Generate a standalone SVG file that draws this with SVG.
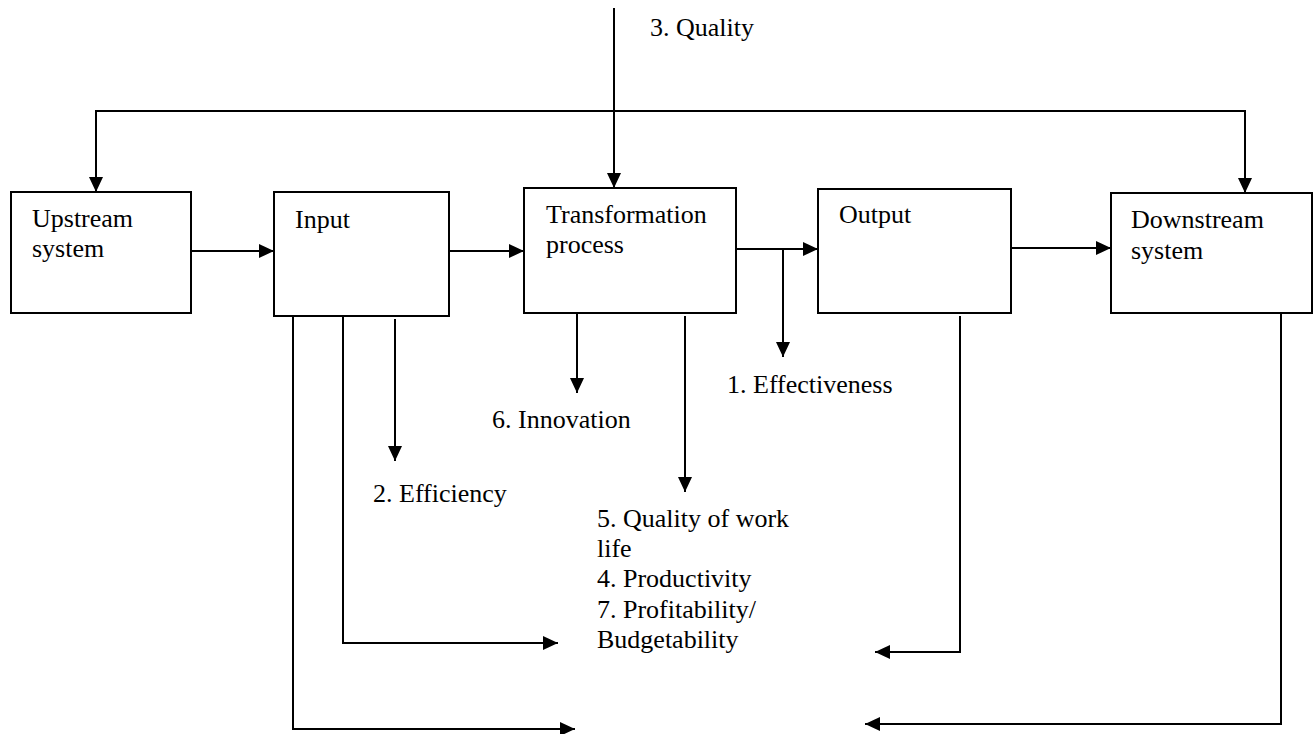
<svg xmlns="http://www.w3.org/2000/svg" width="1315" height="734" viewBox="0 0 1315 734">
  <style>
    .box { fill: #ffffff; stroke: #000000; stroke-width: 2; }
    .wire { fill: none; stroke: #000000; stroke-width: 2; }
    text { font-family: "Liberation Serif", "Times New Roman", serif; font-size: 26px; fill: #000000; }
  </style>
  <defs>
    <marker id="arrow" viewBox="0 0 15 14" refX="15" refY="7" markerWidth="15" markerHeight="14" markerUnits="userSpaceOnUse" orient="auto">
      <path d="M0,0 L15,7 L0,14 Z" fill="#000000"/>
    </marker>
  </defs>
  <rect width="1315" height="734" fill="#ffffff"/>

  <!-- connectors -->
  <g id="connectors" class="wire" marker-end="url(#arrow)">
    <!-- quality feed from above into the transformation process -->
    <line x1="614" y1="8" x2="614" y2="188"/>
    <!-- top feedback bus to upstream and downstream systems -->
    <polyline points="614,111 96,111 96,192"/>
    <polyline points="614,111 1245,111 1245,193"/>
    <!-- main flow -->
    <line x1="191" y1="251" x2="274" y2="251"/>
    <line x1="449" y1="251" x2="524" y2="251"/>
    <line x1="736" y1="249" x2="818" y2="249"/>
    <line x1="1011" y1="248" x2="1111" y2="248"/>
    <!-- effectiveness branch -->
    <line x1="783" y1="249" x2="783" y2="357"/>
    <!-- measures from input -->
    <line x1="395" y1="319" x2="395" y2="461"/>
    <polyline points="343,316 343,643 558,643"/>
    <polyline points="293,316 293,729 575,729"/>
    <!-- measures from transformation process -->
    <line x1="577" y1="313" x2="577" y2="393"/>
    <line x1="685" y1="316" x2="685" y2="492"/>
    <!-- returns from output and downstream -->
    <polyline points="960,316 960,652 875,652"/>
    <polyline points="1281,313 1281,724 865,724"/>
  </g>

  <!-- nodes -->
  <g id="upstream">
    <rect class="box" x="11" y="192" width="180" height="121"/>
    <text x="32" y="227">Upstream</text>
    <text x="32" y="257">system</text>
  </g>
  <g id="input">
    <rect class="box" x="274" y="192" width="175" height="124"/>
    <text x="295" y="228">Input</text>
  </g>
  <g id="transformation">
    <rect class="box" x="524" y="188" width="212" height="125"/>
    <text x="546" y="223">Transformation</text>
    <text x="546" y="253">process</text>
  </g>
  <g id="output">
    <rect class="box" x="818" y="189" width="193" height="124"/>
    <text x="839" y="223">Output</text>
  </g>
  <g id="downstream">
    <rect class="box" x="1111" y="193" width="201" height="120"/>
    <text x="1131" y="228">Downstream</text>
    <text x="1131" y="259">system</text>
  </g>

  <!-- measure labels -->
  <g id="labels">
    <text x="650" y="36">3. Quality</text>
    <text x="727" y="393">1. Effectiveness</text>
    <text x="492" y="428">6. Innovation</text>
    <text x="373" y="502">2. Efficiency</text>
    <text x="597" y="527">5. Quality of work</text>
    <text x="597" y="557">life</text>
    <text x="597" y="587">4. Productivity</text>
    <text x="597" y="618">7. Profitability/</text>
    <text x="597" y="648">Budgetability</text>
  </g>
</svg>
